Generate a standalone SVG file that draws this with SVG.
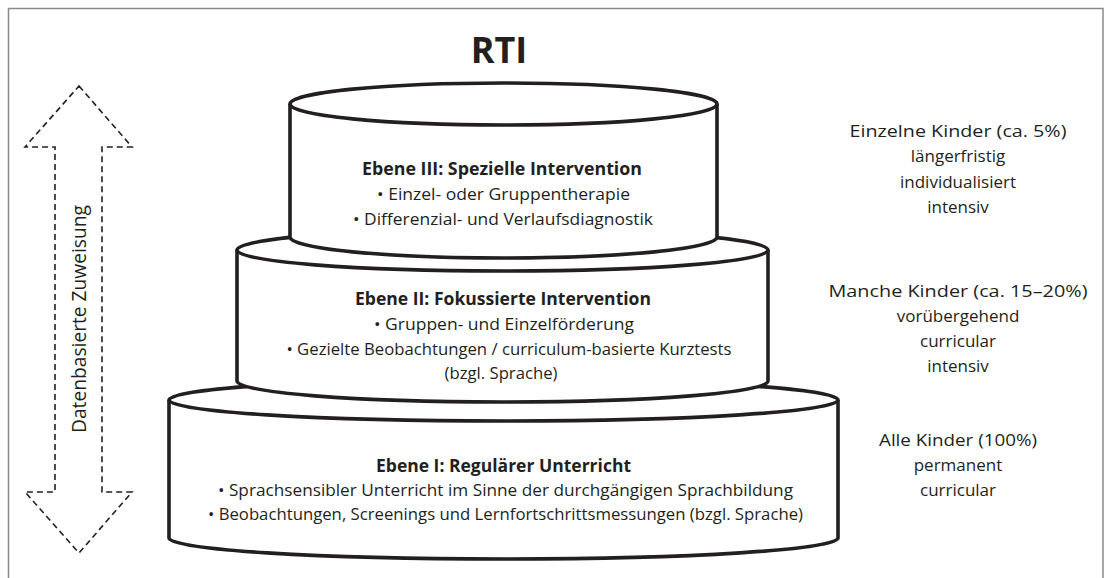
<svg xmlns="http://www.w3.org/2000/svg" width="1108" height="578" viewBox="0 0 1108 578">
<style>
.cyl{fill:#fff;stroke:#231f20;stroke-width:3.6;stroke-linejoin:round}
.rim{fill:none;stroke:#231f20;stroke-width:3.6}
.t{font-family:"Open Sans","Noto Sans","DejaVu Sans",sans-serif;font-size:17px;fill:#231f20;text-anchor:middle}
.b{font-weight:700}
.arrow{fill:none;stroke:#231f20;stroke-width:1.6;stroke-dasharray:6 4}
.frame{fill:none;stroke:#8a8a8a;stroke-width:1.5}
</style>
<rect width="1108" height="578" fill="#fff"/>
<path class="frame" d="M8.5,578 V8.5 H1103 V578"/>
<g id="title"><text class="t b" x="499" y="63" style="font-size:36px">RTI</text></g>
<g id="connectors">
<polygon class="arrow" points="79,86 132,147 102,147 102,492 132,492 79,553 25,492 55,492 55,147 25,147"/>
</g>
<g id="label-arrow"><text class="t" transform="translate(86,319) rotate(-90)" style="font-size:19.5px" textLength="228" lengthAdjust="spacingAndGlyphs">Datenbasierte Zuweisung</text></g>
<g id="ebene1">
<path class="cyl" d="M169,400 L169,538 A334.5,21 0 0 0 838,538 L838,400 A334.5,21 0 0 0 169,400 Z"/>
<path class="rim" d="M169,400 A334.5,21 0 0 0 838,400"/>
<text class="t b" x="503.5" y="472" textLength="255" lengthAdjust="spacingAndGlyphs">Ebene I: Regulärer Unterricht</text>
<text class="t" x="505.5" y="496" textLength="575" lengthAdjust="spacingAndGlyphs">• Sprachsensibler Unterricht im Sinne der durchgängigen Sprachbildung</text>
<text class="t" x="505.5" y="520" textLength="595" lengthAdjust="spacingAndGlyphs">• Beobachtungen, Screenings und Lernfortschrittsmessungen (bzgl. Sprache)</text>
</g>
<g id="ebene2">
<path class="cyl" d="M237,250 L237,381 A265.5,21 0 0 0 768,381 L768,250 A265.5,21 0 0 0 237,250 Z"/>
<path class="rim" d="M237,250 A265.5,21 0 0 0 768,250"/>
<text class="t b" x="503" y="305" textLength="296" lengthAdjust="spacingAndGlyphs">Ebene II: Fokussierte Intervention</text>
<text class="t" x="504" y="330" textLength="260" lengthAdjust="spacingAndGlyphs">• Gruppen- und Einzelförderung</text>
<text class="t" x="509" y="355" textLength="445" lengthAdjust="spacingAndGlyphs">• Gezielte Beobachtungen / curriculum-basierte Kurztests</text>
<text class="t" x="501" y="379" textLength="113" lengthAdjust="spacingAndGlyphs">(bzgl. Sprache)</text>
</g>
<g id="ebene3">
<path class="cyl" d="M290,104 L290,237 A213.5,21 0 0 0 717,237 L717,104 A213.5,21 0 0 0 290,104 Z"/>
<path class="rim" d="M290,104 A213.5,21 0 0 0 717,104"/>
<text class="t b" x="502" y="175" textLength="280" lengthAdjust="spacingAndGlyphs">Ebene III: Spezielle Intervention</text>
<text class="t" x="503.5" y="200" textLength="253" lengthAdjust="spacingAndGlyphs">• Einzel- oder Gruppentherapie</text>
<text class="t" x="503" y="225" textLength="300" lengthAdjust="spacingAndGlyphs">• Differenzial- und Verlaufsdiagnostik</text>
</g>
<g id="desc3">
<text class="t" x="958" y="137" textLength="217" lengthAdjust="spacingAndGlyphs">Einzelne Kinder (ca. 5%)</text>
<text class="t" x="958" y="162">längerfristig</text>
<text class="t" x="958" y="188">individualisiert</text>
<text class="t" x="958" y="213">intensiv</text>
</g>
<g id="desc2">
<text class="t" x="958" y="297" textLength="259" lengthAdjust="spacingAndGlyphs">Manche Kinder (ca. 15–20%)</text>
<text class="t" x="958" y="322">vorübergehend</text>
<text class="t" x="958" y="347">curricular</text>
<text class="t" x="958" y="372">intensiv</text>
</g>
<g id="desc1">
<text class="t" x="958" y="446" textLength="158" lengthAdjust="spacingAndGlyphs">Alle Kinder (100%)</text>
<text class="t" x="958" y="471">permanent</text>
<text class="t" x="958" y="496">curricular</text>
</g>
</svg>
